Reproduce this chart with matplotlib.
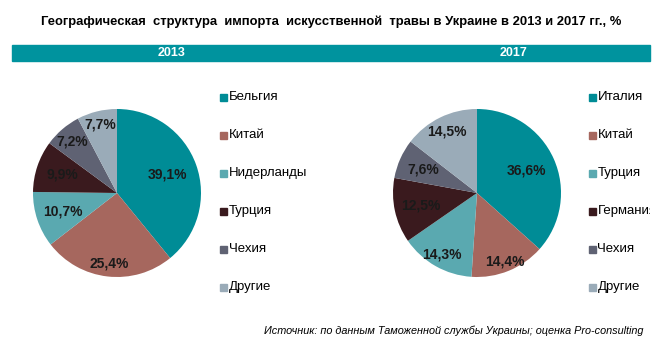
import numpy as np
import matplotlib.pyplot as plt
from matplotlib.patches import Rectangle

# данные
labels_2013 = ['Бельгия', 'Китай', 'Нидерланды', 'Турция', 'Чехия', 'Другие']
values_2013 = [39.1, 25.4, 10.7, 9.9, 7.2, 7.7]
labels_2017 = ['Италия', 'Китай', 'Турция', 'Германия', 'Чехия', 'Другие']
values_2017 = [36.6, 14.4, 14.3, 12.5, 7.6, 14.5]

colors = ['#008C96', '#A6675E', '#5AA9B0', '#3A1A1E', '#5F6273', '#9AABB8']

plt.rcParams['font.family'] = ['Liberation Sans', 'DejaVu Sans']

W, H = 663, 352
fig = plt.figure(figsize=(W / 100, H / 100), dpi=100)


def px(x, y):
    return x / W, 1 - y / H


# заголовок
fig.text(*px(331, 22), 'Географическая  структура  импорта  искусственной  травы в Украине в 2013 и 2017 гг., %',
         ha='center', va='center', fontsize=9.4, fontweight='bold')

# полоса с годами
fig.patches.append(Rectangle(px(12, 61), (650 - 12) / W, 15.5 / H,
                             transform=fig.transFigure, color='#00939E', zorder=0))
fig.text(*px(172, 53.5), '2013', ha='center', va='center', color='white',
         fontsize=9, fontweight='bold')
fig.text(*px(513, 53.5), '2017', ha='center', va='center', color='white',
         fontsize=9, fontweight='bold')


def draw_pie(cx, cy, r, values, radii):
    x0, y0 = px(cx - r, cy + r)
    ax = fig.add_axes([x0, y0, 2 * r / W, 2 * r / H])
    wedges, _ = ax.pie(values, colors=colors, startangle=90, counterclock=False,
                       radius=1, wedgeprops=dict(linewidth=0))
    for w, v, rr in zip(wedges, values, radii):
        ang = np.deg2rad((w.theta1 + w.theta2) / 2)
        ax.text(rr * np.cos(ang), rr * np.sin(ang), f'{v:.1f}%'.replace('.', ','),
                ha='center', va='center', fontsize=10, fontweight='bold',
                color='#1a1a1a')
    ax.set_xlim(-1, 1)
    ax.set_ylim(-1, 1)
    ax.set_aspect('equal')
    ax.axis('off')


def draw_legend(x_sq, labels, clip_right):
    lax = fig.add_axes([0, 0, clip_right / W, 1])
    lax.set_xlim(0, clip_right)
    lax.set_ylim(H, 0)
    lax.axis('off')
    for i, lab in enumerate(labels):
        y = 97 + i * 38
        lax.add_patch(Rectangle((x_sq, y - 3), 6.5, 6.5, color=colors[i], clip_on=False))
        lax.text(x_sq + 8.5, y, lab, ha='left', va='center', fontsize=9.5, clip_on=True)


draw_pie(117, 193, 84, values_2013, [0.64, 0.84, 0.68, 0.68, 0.81, 0.84])
draw_pie(477, 193, 84, values_2017, [0.65, 0.88, 0.84, 0.69, 0.70, 0.82])
draw_legend(220, labels_2013, 330)
draw_legend(589, labels_2017, 650)

# источник
fig.text(*px(643, 331), 'Источник: по данным Таможенной службы Украины; оценка Pro-consulting',
         ha='right', va='center', fontsize=7.8, style='italic')

fig.savefig('out.png', dpi=100)
